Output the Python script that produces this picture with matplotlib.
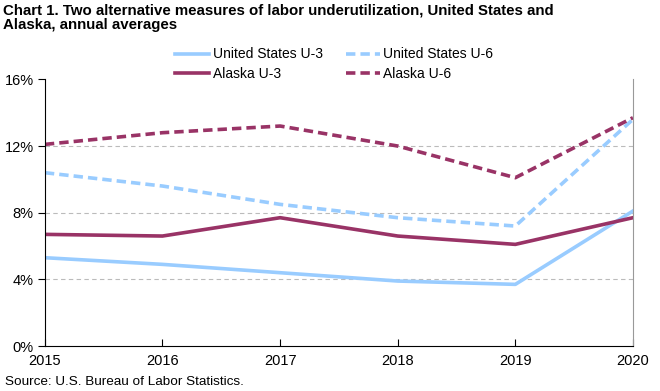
import matplotlib
matplotlib.use("Agg")
import matplotlib.pyplot as plt
from matplotlib.ticker import FuncFormatter

plt.rcParams['font.family'] = ['Liberation Sans', 'DejaVu Sans']

years = [2015, 2016, 2017, 2018, 2019, 2020]
us_u3 = [5.3, 4.9, 4.4, 3.9, 3.7, 8.1]
us_u6 = [10.4, 9.6, 8.5, 7.7, 7.2, 13.6]
ak_u3 = [6.7, 6.6, 7.7, 6.6, 6.1, 7.7]
ak_u6 = [12.1, 12.8, 13.2, 12.0, 10.1, 13.7]

blue = '#99CCFF'
maroon = '#993366'
dash = (0, (2.6, 1.4))

fig = plt.figure(figsize=(6.6, 3.91), dpi=100)
ax = fig.add_axes([0.068, 0.115, 0.891, 0.682])

l1, = ax.plot(years, us_u3, color=blue, lw=2.6, label='United States U-3')
l2, = ax.plot(years, us_u6, color=blue, lw=2.6, ls=dash, label='United States U-6')
l3, = ax.plot(years, ak_u3, color=maroon, lw=2.6, label='Alaska U-3')
l4, = ax.plot(years, ak_u6, color=maroon, lw=2.6, ls=dash, label='Alaska U-6')

ax.set_xlim(2015, 2020)
ax.set_ylim(0, 16)
ax.set_yticks([0, 4, 8, 12, 16])
ax.set_xticks(years)
ax.yaxis.set_major_formatter(FuncFormatter(lambda v, p: f'{v:.0f}%'))
for y in [4, 8, 12]:
    ax.axhline(y, color='#BBBBBB', lw=0.8, ls=(0, (4, 3)), zorder=0)

ax.spines['top'].set_visible(False)
ax.spines['right'].set_color('#999999')
ax.spines['left'].set_color('black')
ax.spines['bottom'].set_color('black')
ax.tick_params(axis='y', direction='out', length=5, labelsize=10.5, pad=3)
ax.tick_params(axis='x', direction='in', length=5, labelsize=10.5, pad=6)

fig.legend(handles=[l1, l3, l2, l4], ncol=2, frameon=False, fontsize=10,
           loc='upper left', bbox_to_anchor=(0.257, 0.893), handlelength=2.45,
           handletextpad=0.25, columnspacing=1.65, labelspacing=0.4, borderaxespad=0)

fig.text(0.004, 0.99, 'Chart 1. Two alternative measures of labor underutilization, United States and\nAlaska, annual averages',
         fontsize=10.8, fontweight='bold', va='top', ha='left', linespacing=1.05)
fig.text(0.008, 0.008, 'Source: U.S. Bureau of Labor Statistics.', fontsize=9.7, va='bottom', ha='left')

fig.savefig('out.png', dpi=100)
